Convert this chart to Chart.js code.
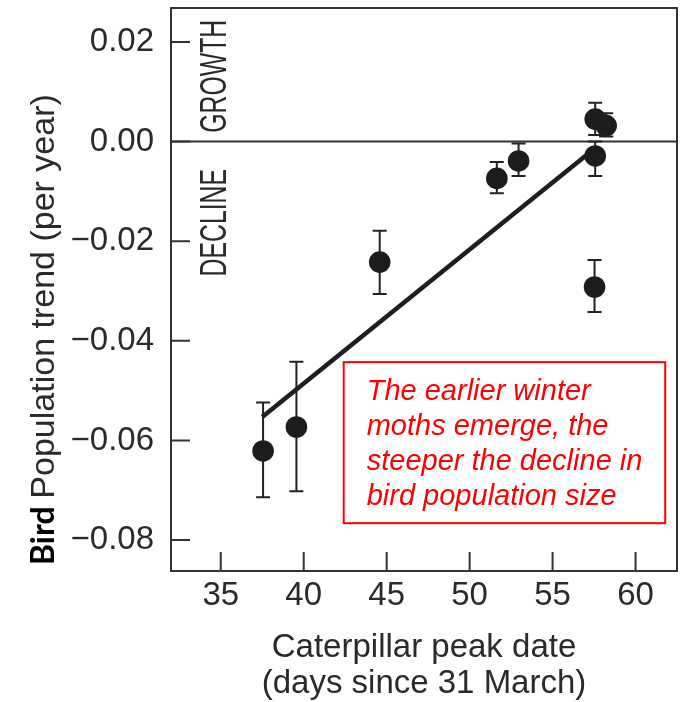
<!DOCTYPE html>
<html>
<head>
<meta charset="utf-8">
<script src="https://cdn.jsdelivr.net/npm/chart.js@4.4.1/dist/chart.umd.min.js"></script>
<style>
  html, body { margin: 0; padding: 0; background: #fff; }
  #wrap { width: 681px; height: 702px; }
</style>
</head>
<body>
<div id="wrap"><canvas id="chart" width="681" height="702"></canvas></div>
<script>
// caterpillar peak date (days since 31 March) vs bird population trend
const peakDates = [37.55, 39.56, 44.58, 51.64, 52.95, 57.57, 58.23, 57.57, 57.53];
const popTrend  = [-0.0621, -0.0573, -0.0242, -0.0074, -0.0039, 0.0045, 0.0032, -0.0029, -0.0292];
const errLow    = [-0.0714, -0.0702, -0.0306, -0.0104, -0.0069, 0.0013, 0.0010, -0.0069, -0.0342];
const errHigh   = [-0.0524, -0.0442, -0.0179, -0.0041, -0.0004, 0.0078, 0.0057, 0.0000, -0.0238];

// fitted regression line end points
const fitX = [37.5, 57.2];
const fitY = [-0.0553, -0.0023];

const xTicks = [35, 40, 45, 50, 55, 60];
const yTicks = [0.02, 0, -0.02, -0.04, -0.06, -0.08];

const noteLines = [
  "The earlier winter",
  "moths emerge, the",
  "steeper the decline in",
  "bird population size"
];

const ink = "#2a2a2a";
const sans = "'Liberation Sans', Arial, Helvetica, sans-serif";

const fmtY = v => (v < 0 ? "\u2212" : "") + Math.abs(v).toFixed(2);

const decorPlugin = {
  id: "decor",
  beforeDatasetsDraw(chart) {
    const { ctx, chartArea: a, scales: { x, y } } = chart;
    ctx.save();
    // zero line
    const y0 = y.getPixelForValue(0);
    ctx.strokeStyle = "#333";
    ctx.lineWidth = 2;
    ctx.beginPath();
    ctx.moveTo(a.left, y0);
    ctx.lineTo(a.right, y0);
    ctx.stroke();

    // error bars
    ctx.strokeStyle = "#222";
    ctx.lineWidth = 2;
    peakDates.forEach((d, i) => {
      const px = x.getPixelForValue(d);
      const lo = y.getPixelForValue(errLow[i]);
      const hi = y.getPixelForValue(errHigh[i]);
      ctx.beginPath();
      ctx.moveTo(px, lo); ctx.lineTo(px, hi);
      ctx.moveTo(px - 7, lo); ctx.lineTo(px + 7, lo);
      ctx.moveTo(px - 7, hi); ctx.lineTo(px + 7, hi);
      ctx.stroke();
    });
    ctx.restore();
  },
  afterDatasetsDraw(chart) {
    const { ctx, chartArea: a, scales: { x, y } } = chart;
    ctx.save();

    // frame
    ctx.strokeStyle = "#333";
    ctx.lineWidth = 2;
    ctx.strokeRect(a.left, a.top, a.right - a.left, a.bottom - a.top);

    // inward tick marks
    ctx.beginPath();
    yTicks.forEach(v => {
      const py = y.getPixelForValue(v);
      ctx.moveTo(a.left, py); ctx.lineTo(a.left + 19, py);
    });
    xTicks.forEach(v => {
      const px = x.getPixelForValue(v);
      ctx.moveTo(px, a.bottom); ctx.lineTo(px, a.bottom - 19);
    });
    ctx.stroke();

    // GROWTH / DECLINE labels (condensed look)
    const sideLabel = (txt, cy) => {
      ctx.save();
      ctx.translate(x.getPixelForValue(34.73), y.getPixelForValue(cy));
      ctx.rotate(-Math.PI / 2);
      ctx.scale(0.67, 1);
      ctx.font = "37px " + sans;
      ctx.fillStyle = ink;
      ctx.textAlign = "center";
      ctx.textBaseline = "middle";
      ctx.fillText(txt, 0, 0);
      ctx.restore();
    };
    sideLabel("GROWTH", 0.0131);
    sideLabel("DECLINE", -0.0163);

    // annotation box
    const bl = x.getPixelForValue(42.41), br = x.getPixelForValue(61.79);
    const bt = y.getPixelForValue(-0.04428), bb = y.getPixelForValue(-0.0766);
    ctx.strokeStyle = "#ff0000";
    ctx.lineWidth = 2;
    ctx.strokeRect(bl, bt, br - bl, bb - bt);
    ctx.fillStyle = "#ff0000";
    ctx.font = "italic 29px " + sans;
    ctx.textAlign = "left";
    ctx.textBaseline = "alphabetic";
    noteLines.forEach((t, i) => ctx.fillText(t, bl + 23, bt + 38 + i * 35));

    // y axis title: bold "Bird" + regular rest
    ctx.translate(54, 565);
    ctx.rotate(-Math.PI / 2);
    ctx.fillStyle = "#000";
    ctx.font = "bold 32px Lato, 'Open Sans', sans-serif";
    ctx.fillText("Bird", 0, 0);
    const w = ctx.measureText("Bird ").width;
    ctx.fillStyle = ink;
    ctx.font = "34px " + sans;
    ctx.fillText("Population trend (per year)", w, 0);

    ctx.restore();
  }
};

new Chart(document.getElementById("chart").getContext("2d"), {
  type: "scatter",
  data: {
    datasets: [
      {
        label: "Fit",
        type: "line",
        data: fitX.map((v, i) => ({ x: v, y: fitY[i] })),
        borderColor: "#1e1e1e",
        borderWidth: 4.5,
        pointRadius: 0,
        fill: false,
        order: 2
      },
      {
        label: "Species",
        data: peakDates.map((v, i) => ({ x: v, y: popTrend[i] })),
        backgroundColor: "#1c1c1c",
        borderWidth: 0,
        pointRadius: 10.8,
        pointHoverRadius: 10.8,
        order: 1
      }
    ]
  },
  options: {
    responsive: false,
    animation: false,
    events: [],
    layout: { autoPadding: false, padding: { left: 0, top: 8, right: 4, bottom: 0 } },
    plugins: { legend: { display: false }, tooltip: { enabled: false } },
    scales: {
      x: {
        type: "linear",
        min: 32,
        max: 62.5,
        afterFit: s => { s.height = 131; s.paddingLeft = 0; s.paddingRight = 0; },
        afterBuildTicks: s => { s.ticks = xTicks.map(v => ({ value: v })); },
        border: { display: false },
        grid: { display: false, drawTicks: false },
        ticks: { color: ink, padding: 5, font: { family: sans, size: 33 } },
        title: {
          display: true,
          text: ["Caterpillar peak date", "(days since 31 March)"],
          color: ink,
          padding: { top: 0, bottom: 0 },
          font: { family: sans, size: 33, lineHeight: 1.1 }
        }
      },
      y: {
        type: "linear",
        min: -0.0862,
        max: 0.0268,
        afterFit: s => { s.width = 171; s.paddingTop = 0; s.paddingBottom = 0; },
        afterBuildTicks: s => { s.ticks = yTicks.map(v => ({ value: v })); },
        border: { display: false },
        grid: { display: false, drawTicks: false },
        ticks: { color: ink, padding: 17, font: { family: sans, size: 33 }, callback: fmtY }
      }
    }
  },
  plugins: [decorPlugin]
});
</script>
</body>
</html>
